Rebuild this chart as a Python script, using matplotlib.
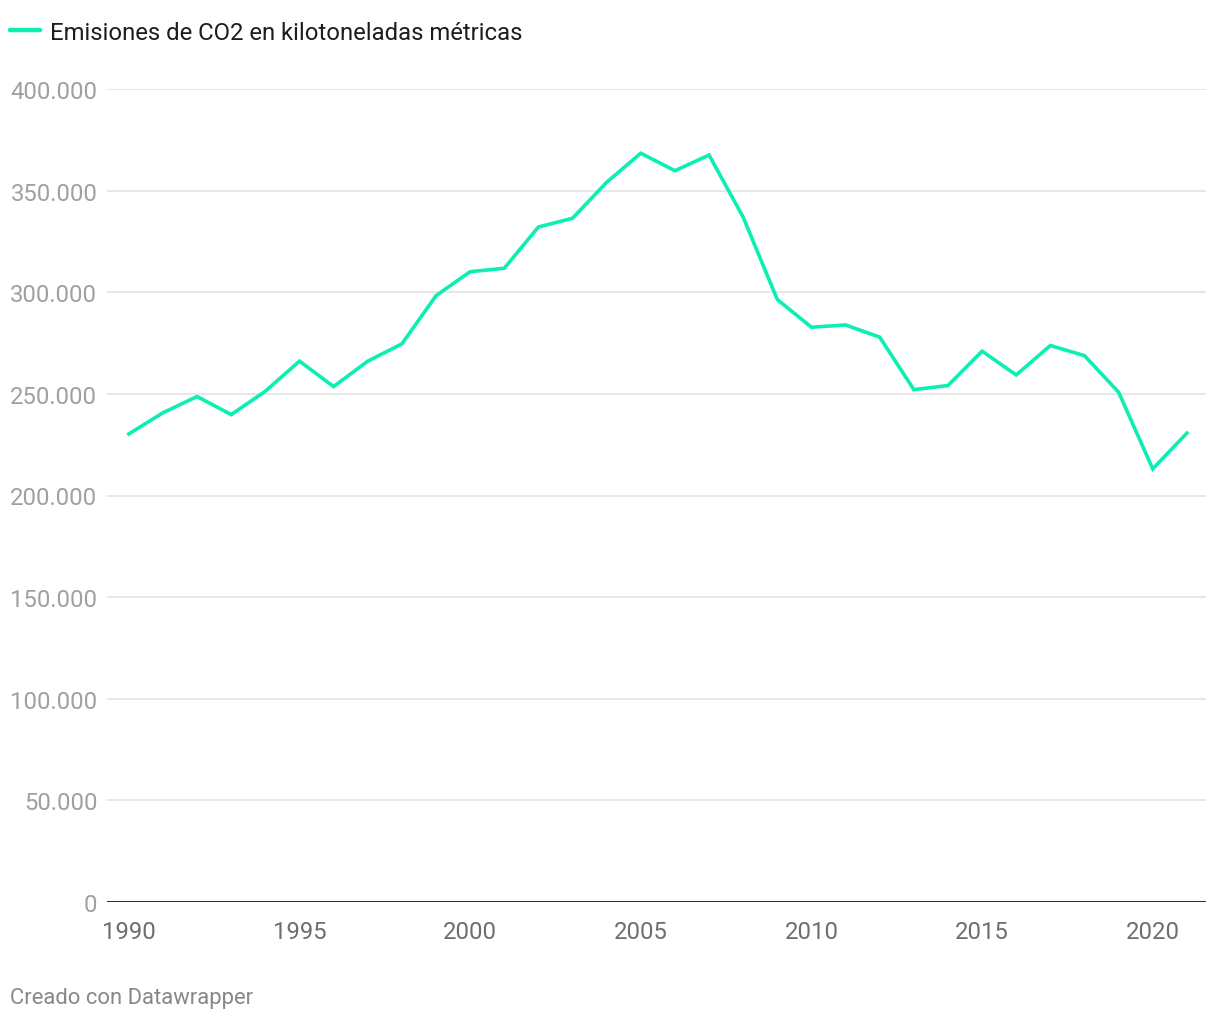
import matplotlib
matplotlib.use("Agg")
import matplotlib.pyplot as plt
from matplotlib.lines import Line2D

plt.rcParams['font.family'] = ['Roboto', 'DejaVu Sans']

years = list(range(1990, 2022))
emisiones = [230300, 240700, 248700, 239800, 251300, 266100, 253600, 266100,
             274600, 298300, 310100, 311800, 332100, 336400, 354100, 368400,
             359800, 367500, 336900, 296400, 282800, 283900, 277900, 252100,
             254100, 271000, 259300, 273800, 268800, 250800, 213100, 230700]
y_ticks = [0, 50000, 100000, 150000, 200000, 250000, 300000, 350000, 400000]
y_labels = ["0", "50.000", "100.000", "150.000", "200.000", "250.000",
            "300.000", "350.000", "400.000"]
x_ticks = [1990, 1995, 2000, 2005, 2010, 2015, 2020]
x_labels = [str(v) for v in x_ticks]
series_name = "Emisiones de CO2 en kilotoneladas métricas"
footer = "Creado con Datawrapper"

LINE_COLOR = "#0cefb2"

W, H = 1220, 1020
fig = plt.figure(figsize=(W / 100, H / 100), dpi=100)
ax = fig.add_axes([107 / W, (H - 903) / H, (1206 - 107) / W, (903 - 90) / H])

ax.set_xlim(1989.36, 2021.56)
ax.set_ylim(0, 400000)

for yv in y_ticks[1:]:
    ax.axhline(yv, color="#e3e3e3", lw=1.2, zorder=1)
ax.axhline(0, color="#1a1a1a", lw=2.0, zorder=3)

ax.plot(years, emisiones, color=LINE_COLOR, lw=2.6, solid_joinstyle="miter",
        zorder=4, clip_on=False)

for s in ax.spines.values():
    s.set_visible(False)

ax.set_yticks(y_ticks)
ax.set_yticklabels(y_labels)
ax.set_xticks(x_ticks)
ax.set_xticklabels(x_labels)
ax.tick_params(axis="y", length=0, pad=7, labelsize=17.2, labelcolor="#a0a0a0")
ax.tick_params(axis="x", length=0, pad=13, labelsize=17.2, labelcolor="#6e6e6e")

# legend
fig.add_artist(Line2D([10 / W, 40 / W], [1 - 31 / H, 1 - 31 / H],
                      color=LINE_COLOR, lw=3.2, solid_capstyle="round"))
fig.text(50 / W, 1 - 33.5 / H, series_name, fontsize=17.2, color="#1d1d1d",
         va="center", ha="left")

fig.text(10 / W, 1 - 999 / H, footer, fontsize=15.8, color="#888888",
         va="center", ha="left")

fig.savefig("out.png", dpi=100, facecolor="white")
